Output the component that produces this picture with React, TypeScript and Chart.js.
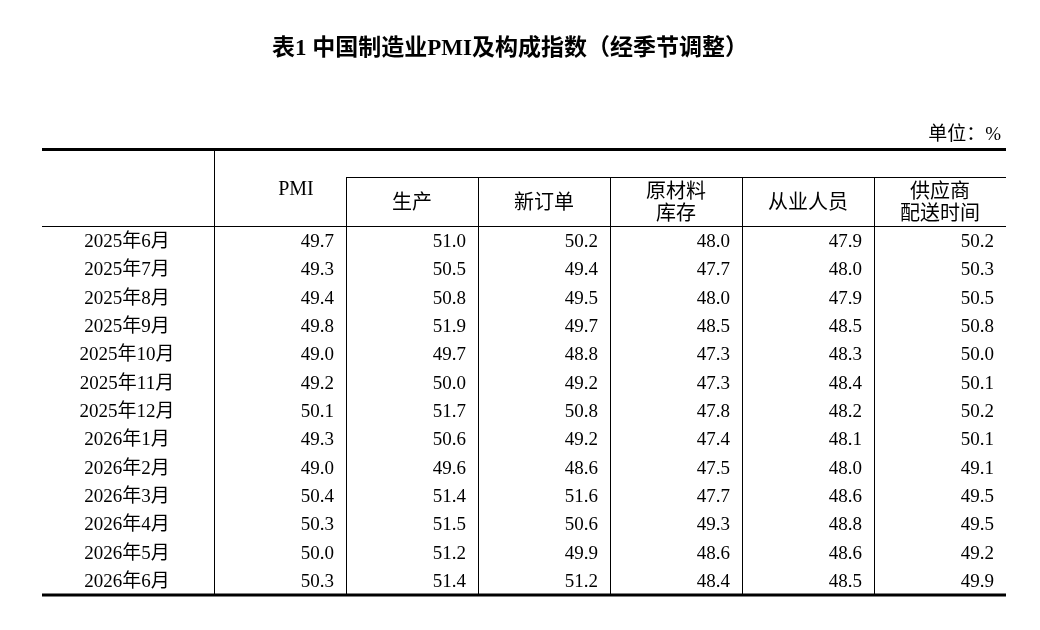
import React, { useEffect, useRef } from "react";
import { Chart, registerables } from "chart.js";

Chart.register(...registerables);

const TITLE = "表1 中国制造业PMI及构成指数（经季节调整）";
const UNIT = "单位：%";

const months = [
  "2025年6月", "2025年7月", "2025年8月", "2025年9月", "2025年10月", "2025年11月",
  "2025年12月", "2026年1月", "2026年2月", "2026年3月", "2026年4月", "2026年5月", "2026年6月",
];

const columns = ["PMI", "生产", "新订单", "原材料库存", "从业人员", "供应商配送时间"];
const columnHeaders = [["PMI"], ["生产"], ["新订单"], ["原材料", "库存"], ["从业人员"], ["供应商", "配送时间"]];

const pmi = [49.7, 49.3, 49.4, 49.8, 49.0, 49.2, 50.1, 49.3, 49.0, 50.4, 50.3, 50.0, 50.3];
const production = [51.0, 50.5, 50.8, 51.9, 49.7, 50.0, 51.7, 50.6, 49.6, 51.4, 51.5, 51.2, 51.4];
const newOrders = [50.2, 49.4, 49.5, 49.7, 48.8, 49.2, 50.8, 49.2, 48.6, 51.6, 50.6, 49.9, 51.2];
const rawMaterialInventory = [48.0, 47.7, 48.0, 48.5, 47.3, 47.3, 47.8, 47.4, 47.5, 47.7, 49.3, 48.6, 48.4];
const employment = [47.9, 48.0, 47.9, 48.5, 48.3, 48.4, 48.2, 48.1, 48.0, 48.6, 48.8, 48.6, 48.5];
const supplierDelivery = [50.2, 50.3, 50.5, 50.8, 50.0, 50.1, 50.2, 50.1, 49.1, 49.5, 49.5, 49.2, 49.9];

const seriesValues = [pmi, production, newOrders, rawMaterialInventory, employment, supplierDelivery];

const FONT = '"Liberation Serif", "Times New Roman", "Noto Sans CJK SC", serif';
const DY = 2;

const tablePlugin = {
  id: "tableDraw",
  afterDraw(chart: any) {
    const ctx = chart.ctx;
    const xs = chart.scales.x;
    const ys = chart.scales.y;
    const area = chart.chartArea;
    const colW = (xs.right - xs.left) / columns.length;
    const half = colW / 2;
    const tableLeft = 42;
    const headTop = 149.5;
    const subTop = 177.5;

    ctx.save();
    ctx.fillStyle = "#000";
    ctx.strokeStyle = "#000";

    // title
    ctx.font = `bold 23px ${FONT}`;
    ctx.textAlign = "center";
    ctx.textBaseline = "middle";
    ctx.fillText(TITLE, 510, 47 + DY);

    // unit
    ctx.font = `19px ${FONT}`;
    ctx.textAlign = "right";
    ctx.fillText(UNIT, area.right - 5, 133 + DY);

    // horizontal rules
    ctx.lineWidth = 3;
    ctx.beginPath();
    ctx.moveTo(tableLeft, headTop);
    ctx.lineTo(area.right, headTop);
    ctx.moveTo(tableLeft, area.bottom + 1);
    ctx.lineTo(area.right, area.bottom + 1);
    ctx.stroke();

    ctx.lineWidth = 1;
    ctx.beginPath();
    ctx.moveTo(tableLeft, area.top + 0.5);
    ctx.lineTo(area.right, area.top + 0.5);
    const subLeft = xs.getPixelForValue(1) - half;
    ctx.moveTo(subLeft, subTop);
    ctx.lineTo(area.right, subTop);
    ctx.stroke();

    // vertical rules
    ctx.beginPath();
    for (let i = 0; i < columns.length; i++) {
      const bx = Math.round(xs.getPixelForValue(i) - half) + 0.5;
      ctx.moveTo(bx, i === 0 ? headTop : subTop);
      ctx.lineTo(bx, area.bottom);
    }
    ctx.stroke();

    // headers
    ctx.textAlign = "center";
    ctx.textBaseline = "middle";
    ctx.font = `20px ${FONT}`;
    columnHeaders.forEach((lines, i) => {
      const cx = xs.getPixelForValue(i);
      if (i === 0) {
        ctx.fillText(lines[0], cx + 16, 188 + DY);
        return;
      }
      const mid = (subTop + area.top) / 2 + DY;
      if (lines.length === 1) {
        ctx.fillText(lines[0], cx, mid);
      } else {
        ctx.fillText(lines[0], cx, mid - 11);
        ctx.fillText(lines[1], cx, mid + 11);
      }
    });

    // row labels
    ctx.font = `19px ${FONT}`;
    ctx.textAlign = "center";
    months.forEach((m, r) => {
      const y = ys.getPixelForValue(r);
      ctx.fillText(m, (tableLeft + area.left) / 2 - 1, y + DY);
    });

    // values
    ctx.textAlign = "right";
    chart.data.datasets.forEach((ds: any, di: number) => {
      const meta = chart.getDatasetMeta(di);
      meta.data.forEach((el: any, k: number) => {
        const v = ds.data[k].v;
        ctx.fillText(v.toFixed(1), el.x + half - 12, el.y + DY);
      });
    });

    ctx.restore();
  },
};

export default function App() {
  const ref = useRef<HTMLCanvasElement | null>(null);

  useEffect(() => {
    document.body.style.margin = "0";
    const canvas = ref.current;
    if (!canvas) return;
    const chart = new Chart(canvas, {
      type: "scatter",
      data: {
        datasets: columns.map((col, ci) => ({
          label: col,
          data: months.map((m, r) => ({ x: col, y: m, v: seriesValues[ci][r] })),
          pointRadius: 0,
          pointHoverRadius: 0,
          showLine: false,
        })) as any,
      },
      options: {
        animation: false,
        responsive: false,
        events: [],
        layout: { padding: { top: 226, left: 214, right: 34, bottom: 36 } },
        plugins: {
          legend: { display: false },
          tooltip: { enabled: false },
          title: { display: false },
        },
        scales: {
          x: { type: "category", labels: columns, offset: true, display: false },
          y: { type: "category", labels: months, offset: true, display: false },
        },
      } as any,
      plugins: [tablePlugin],
    });
    return () => chart.destroy();
  }, []);

  return (
    <div style={{ width: 1040, height: 630, background: "#fff" }}>
      <canvas ref={ref} width={1040} height={630} style={{ display: "block" }} />
    </div>
  );
}
